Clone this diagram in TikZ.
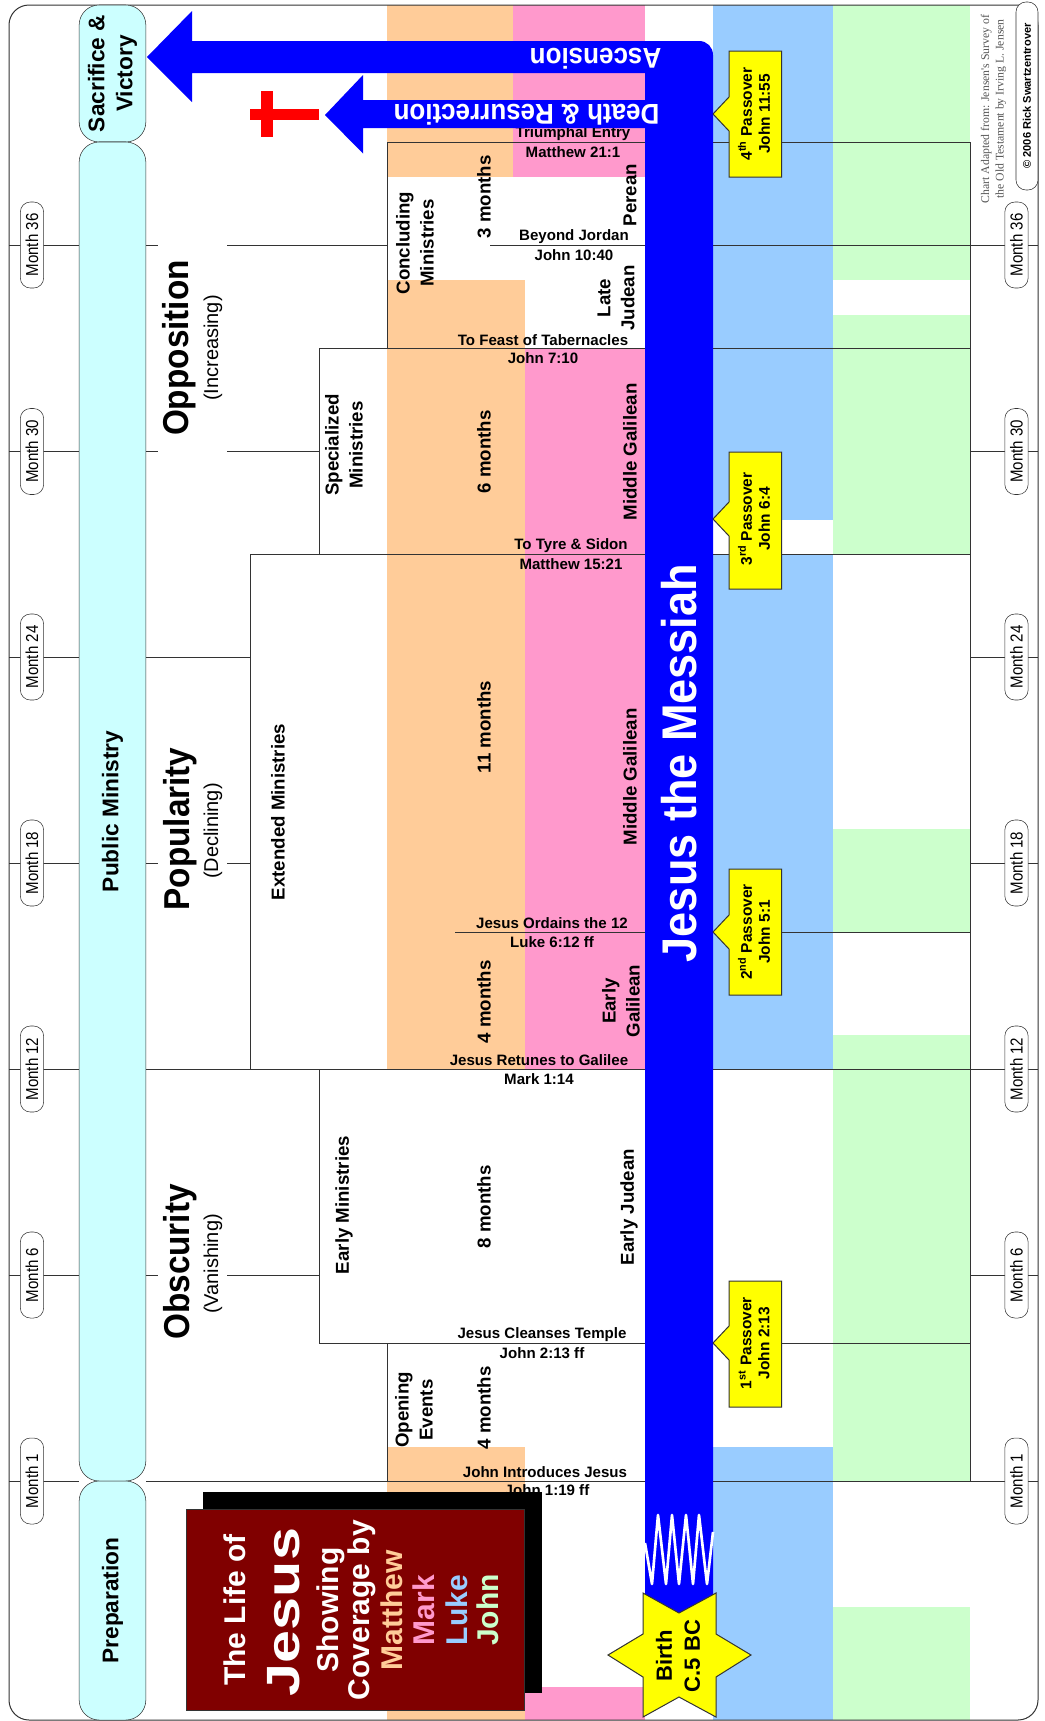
\documentclass[tikz,border=0pt]{standalone}
\usepackage{fontspec}
\setmainfont{Liberation Sans}
\newfontfamily\creditfont{Liberation Serif}
\usepackage{xcolor}
\definecolor{MatthewOrange}{HTML}{FFCC99}
\definecolor{MarkPink}{HTML}{FF99CC}
\definecolor{LukeBlue}{HTML}{99CCFF}
\definecolor{JohnGreen}{HTML}{CCFFCC}
\definecolor{PeriodCyan}{HTML}{CCFFFF}
\definecolor{MessiahBlue}{HTML}{0000FF}
\definecolor{BannerYellow}{HTML}{FFFF00}
\definecolor{TitleRed}{HTML}{800000}
\definecolor{RuleGrey}{HTML}{333333}
\definecolor{CreditGrey}{HTML}{555555}
\tikzset{
  rule/.style={draw=RuleGrey,line width=0.75pt},
  monthnode/.style={draw=RuleGrey,fill=white,rounded corners=7.5pt,rotate=90,yscale=1.15,minimum width=64.5pt,minimum height=15.2pt,inner sep=0pt,font=\fontsize{11.3}{13}\selectfont},
  periodnode/.style={draw=RuleGrey,fill=PeriodCyan,rounded corners=15pt,rotate=90,minimum height=50pt,inner sep=0pt,align=center,font=\bfseries\fontsize{17}{21}\selectfont},
  phasenode/.style={rotate=90,yscale=1.08,inner sep=0pt,font=\bfseries\fontsize{25}{28}\selectfont},
  trendnode/.style={rotate=90,inner sep=0pt,font=\fontsize{15}{18}\selectfont},
  ministrynode/.style={rotate=90,inner sep=0pt,align=center,font=\bfseries\fontsize{14}{18}\selectfont},
  eventnode/.style={inner sep=0pt,font=\bfseries\fontsize{11.3}{13}\selectfont},
  passovernode/.style={draw=RuleGrey,fill=BannerYellow,line width=0.75pt},
  passovertext/.style={rotate=90,inner sep=0pt,align=center,font=\bfseries\fontsize{11.6}{13.5}\selectfont},
  bluetext/.style={rotate=180,yscale=1.1,inner sep=0pt,text=white,font=\bfseries\fontsize{19.5}{22}\selectfont},
  titletext/.style={rotate=90,inner sep=0pt,font=\bfseries\fontsize{22.5}{26}\selectfont}
}
\begin{document}
\begin{tikzpicture}[x=0.75pt,y=-0.75pt]
\useasboundingbox (0,0) rectangle (1045,1721);
% coverage bands
\foreach \xa/\xb/\ya/\yb/\col in {387/513/5/177/MatthewOrange,387/525/280/1069/MatthewOrange,387/525/1447/1720/MatthewOrange,
  513/645/5/177/MarkPink,525/645/348/1069/MarkPink,525/645/1687/1720/MarkPink,
  713/833/5/520/LukeBlue,713/833/554/1069/LukeBlue,713/833/1447/1720/LukeBlue,
  833/970/5/280/JohnGreen,833/970/315/554/JohnGreen,833/970/829/932/JohnGreen,833/970/1035/1481/JohnGreen,833/970/1607/1720/JohnGreen}{
  \fill[\col] (\xa,\ya) rectangle (\xb,\yb);
}
\draw[rule,rounded corners=15pt] (9,5) rectangle (1038,1720);
% month rules, left and right of the chart
\foreach \y in {245,451.5,657,863,1069,1275,1481}{
  \draw[rule] (9,\y) -- (79,\y);
  \draw[rule] (970,\y) -- (1038,\y);
}
\draw[rule] (146,245) -- (158,245) (227,245) -- (387,245);
\draw[rule] (146,451.5) -- (158,451.5) (227,451.5) -- (319,451.5);
\draw[rule] (146,657) -- (250,657);
\draw[rule] (146,863) -- (158,863) (227,863) -- (250,863);
\draw[rule] (146,1275) -- (158,1275) (227,1275) -- (319,1275);
\draw[rule] (146,1069) -- (970,1069);
\draw[rule] (146,1481) -- (970,1481);
% ministry boxes
\draw[rule] (970,142) -- (387,142) -- (387,348.5);
\draw[rule] (490,245) -- (970,245);
\draw[rule] (970,348.5) -- (319,348.5) -- (319,554.5);
\draw[rule] (970,554.5) -- (250,554.5) -- (250,1069);
\draw[rule] (455,932) -- (970,932);
\draw[rule] (319,1069) -- (319,1343);
\draw[rule] (970,1343) -- (319,1343);
\draw[rule] (387,1343) -- (387,1481);
\draw[rule] (970,142) -- (970,1481);
% period pills
\node[periodnode,minimum width=102.75pt] (sacrifice) at (112.5,73.5) {Sacrifice \&\\Victory};
\node[periodnode,minimum width=1004.25pt] (publicministry) at (112.5,811.5) {Public Ministry};
\node[periodnode,minimum width=179.25pt] (preparation) at (112.5,1600.5) {Preparation};
\foreach \m/\y in {36/245,30/451.5,24/657,18/863,12/1069,6/1275,1/1481}{
  \node[monthnode] (monthleft\m) at (32,\y) {Month \m};
  \node[monthnode] (monthright\m) at (1016.5,\y) {Month \m};
}
\node[phasenode] (opposition) at (179,348) {Opposition};
\node[trendnode] (increasing) at (213,348) {(Increasing)};
\node[phasenode] (popularity) at (180,829) {Popularity};
\node[trendnode] (declining) at (213,831) {(Declining)};
\node[phasenode] (obscurity) at (180,1262) {Obscurity};
\node[trendnode] (vanishing) at (213,1264) {(Vanishing)};
\node[ministrynode] (extended) at (278,812) {Extended Ministries};
\node[ministrynode] (earlymin) at (344,1205) {Early Ministries};
\node[ministrynode] (specialized) at (344,445) {Specialized\\Ministries};
\node[ministrynode] (concluding) at (415,243) {Concluding\\Ministries};
\node[ministrynode] (opening) at (414,1410) {Opening\\Events};
\foreach \y/\txt [count=\i] in {197/3 months,452/6 months,727/11 months,1002/4 months,1207/8 months,1408/4 months}{
  \node[ministrynode] (span\i) at (484,\y) {\txt};
}
\node[ministrynode] (perean) at (630,195) {Perean};
\node[ministrynode] (latejudean) at (616,298) {Late\\Judean};
\node[ministrynode] (midgalilean) at (630,452) {Middle Galilean};
\node[ministrynode] (midgalilean2) at (630,777) {Middle Galilean};
\node[ministrynode] (earlygalilean) at (621,1001) {Early\\Galilean};
\node[ministrynode] (earlyjudean) at (629,1207) {Early Judean};
\foreach \x/\y/\txt [count=\i] in {573/134/Triumphal Entry,573/152/Matthew 21:1,574/237/Beyond Jordan,574/255/John 10:40,
  543/340/To Feast of Tabernacles,543/358/John 7:10,571/546/To Tyre \& Sidon,571/564/Matthew 15:21,
  552/923/Jesus Ordains the 12,552/942/Luke 6:12 ff,539/1060/Jesus Retunes to Galilee,539/1079/Mark 1:14,
  542/1335/Jesus Cleanses Temple,542/1353/John 2:13 ff,545/1472/John Introduces Jesus,547/1490/John 1:19 ff}{
  \node[eventnode] (event\i) at (\x,\y) {\txt};
}
% messiah bar with its two arrows
\fill[MessiahBlue] (147,57) -- (192,11) -- (192,41) -- (699,41) .. controls (707,41) and (713,47) .. (713,55)
  -- (713,1613) -- (645,1613) -- (645,128) -- (363,128) -- (363,153.5) -- (325,115) -- (363,75) -- (363,100)
  -- (645,100) -- (645,73) -- (192,73) -- (192,102) -- cycle;
\draw[white,line width=2pt,line join=round] (645,1543) -- (652,1584) -- (658,1515) -- (666,1584) -- (672,1515) -- (679,1584)
  -- (686,1515) -- (693,1584) -- (699,1515) -- (707,1584) -- (713,1532);
\node[bluetext] (ascension) at (595.5,59) {Ascension};
\node[bluetext] (death) at (526.5,115) {Death \& Resurrection};
\node[rotate=90,yscale=1.08,inner sep=0pt,text=white,font=\bfseries\fontsize{33.8}{36}\selectfont] (messiah) at (679,763) {Jesus the Messiah};
\fill[red] (250,109) rectangle (319,120);
\fill[red] (261,91) rectangle (273,137);
\foreach \top/\bot/\tip/\n/\sfx/\ref in {51/177/114/4/th/11:55,452/589/519/3/rd/6:4,869/995/932/2/nd/5:1,1281/1407/1343/1/st/2:13}{
  \draw[passovernode] (729,\top) -- (781.5,\top) -- (781.5,\bot) -- (729,\bot) -- (729,\tip+17) -- (713,\tip) -- (729,\tip-17) -- cycle;
  \node[passovertext] (passover\n) at (754,\tip) {\n\textsuperscript{\sfx} Passover\\John \ref};
}
% birth star
\draw[passovernode,fill=BannerYellow] (643,1593) -- (679,1613) -- (716,1593) -- (716,1634) -- (751,1655) -- (716,1677) -- (716,1717)
  -- (679,1697) -- (643,1717) -- (643,1677) -- (608,1655) -- (643,1634) -- cycle;
\node[rotate=90,inner sep=0pt,align=center,font=\bfseries\fontsize{16.5}{21}\selectfont] (birth) at (678,1656) {Birth\\C.5 BC};
% title card
\fill[black] (203,1492) rectangle (542,1693);
\filldraw[fill=TitleRed,draw=RuleGrey,line width=0.75pt] (186,1509) rectangle (524,1710);
\node[titletext,text=white] (lifeof) at (235,1610) {The Life of};
\node[rotate=90,xscale=1.27,inner sep=0pt,text=white,font=\bfseries\fontsize{35}{36}\selectfont] (jesus) at (284,1612) {Jesus};
\node[titletext,text=white] (showing) at (331,1610) {Showing};
\node[titletext,text=white] (coverage) at (362,1610) {Coverage by};
\node[titletext,text=MatthewOrange] (matthew) at (392,1610) {Matthew};
\node[titletext,text=MarkPink] (mark) at (424,1610) {Mark};
\node[titletext,text=LukeBlue] (luke) at (457,1610) {Luke};
\node[titletext,text=JohnGreen] (john) at (488,1610) {John};
% credits
\node[rotate=90,inner sep=0pt,align=center,text=CreditGrey,font=\creditfont\fontsize{8.8}{11}\selectfont] (adapted) at (993.5,109) {Chart Adapted from: Jensen's Survey of\\the Old Testament by Irving L. Jensen};
\node[draw=RuleGrey,fill=white,rounded corners=7.5pt,rotate=90,minimum width=141pt,minimum height=16.5pt,inner sep=0pt,font=\bfseries\fontsize{8.3}{10}\selectfont] (copyright) at (1027,96) {© 2006 Rick Swartzentrover};
\end{tikzpicture}
\end{document}
